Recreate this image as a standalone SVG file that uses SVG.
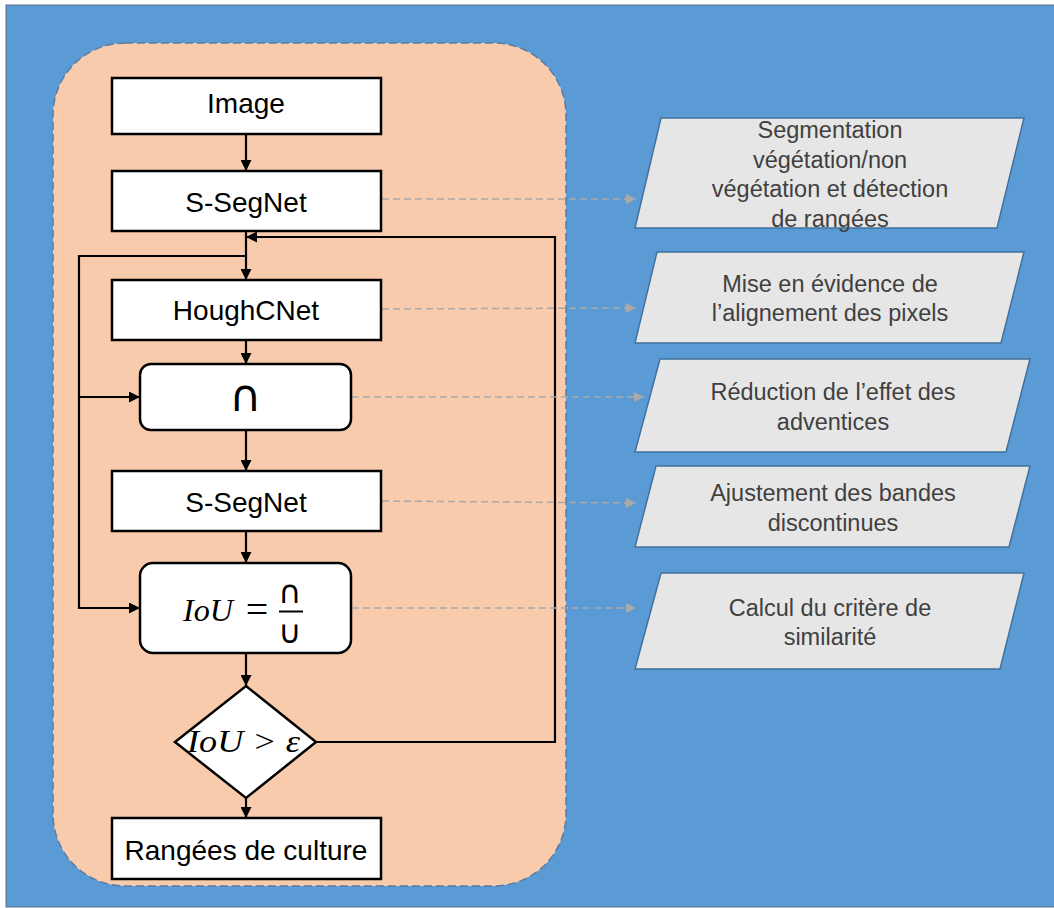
<svg xmlns="http://www.w3.org/2000/svg" width="1054" height="908" viewBox="0 0 1054 908">
  <defs>
    <style>
      .box { fill: #ffffff; stroke: #000000; stroke-width: 2.5; }
      .lbl { font-family: "Liberation Sans", Arial, sans-serif; font-size: 28px; fill: #000000; text-anchor: middle; }
      .math { font-family: "Liberation Serif", "Times New Roman", serif; font-style: italic; font-size: 32px; fill: #000000; }
      .sym { font-family: "DejaVu Sans", sans-serif; fill: #000000; text-anchor: middle; }
      .para { fill: #E7E6E6; stroke: #41719C; stroke-width: 1.5; }
      .note { font-family: "Liberation Sans", Arial, sans-serif; font-size: 23.5px; fill: #404040; text-anchor: middle; }
      .flow { fill: none; stroke: #000000; stroke-width: 2.2; }
      .dash { fill: none; stroke: #A9A9A9; stroke-width: 1.5; stroke-dasharray: 7 4; }
    </style>
    <marker id="ah" viewBox="0 0 10 10" refX="10" refY="5" markerWidth="5" markerHeight="5" orient="auto" markerUnits="strokeWidth">
      <path d="M0,0 L10,5 L0,10 Z" fill="#000000"/>
    </marker>
    <marker id="ahg" viewBox="0 0 10 10" refX="10" refY="5" markerWidth="7" markerHeight="7" orient="auto" markerUnits="strokeWidth">
      <path d="M0,0 L10,5 L0,10 Z" fill="#A9A9A9"/>
    </marker>
  </defs>

  <!-- background -->
  <rect x="6" y="5" width="1050" height="902" fill="#5B9BD5" stroke="#5d6f85" stroke-width="1"/>
  <!-- container -->
  <rect x="53" y="43" width="513" height="843" rx="72" ry="72" fill="#F8CBAD" stroke="#5a7ba3" stroke-width="1.5" stroke-dasharray="8 4"/>

  <!-- connectors -->
  <g id="connectors">
    <line class="flow" x1="246" y1="134" x2="246" y2="171" marker-end="url(#ah)"/>
    <line class="flow" x1="246" y1="231" x2="246" y2="280" marker-end="url(#ah)"/>
    <polyline class="flow" points="246,256 79,256 79,397 140,397" marker-end="url(#ah)"/>
    <polyline class="flow" points="79,397 79,608 140,608" marker-end="url(#ah)"/>
    <line class="flow" x1="246" y1="340" x2="246" y2="364" marker-end="url(#ah)"/>
    <line class="flow" x1="246" y1="430" x2="246" y2="471" marker-end="url(#ah)"/>
    <line class="flow" x1="246" y1="531" x2="246" y2="563" marker-end="url(#ah)"/>
    <line class="flow" x1="246" y1="653" x2="246" y2="686" marker-end="url(#ah)"/>
    <line class="flow" x1="246" y1="798" x2="246" y2="818" marker-end="url(#ah)"/>
    <polyline class="flow" points="316,742 555,742 555,237 246,237" marker-end="url(#ah)"/>

    <line class="dash" x1="382" y1="199" x2="636" y2="199" marker-end="url(#ahg)"/>
    <line class="dash" x1="382" y1="309" x2="636" y2="308" marker-end="url(#ahg)"/>
    <line class="dash" x1="352" y1="397" x2="644" y2="397" marker-end="url(#ahg)"/>
    <line class="dash" x1="382" y1="501" x2="636" y2="503" marker-end="url(#ahg)"/>
    <line class="dash" x1="352" y1="608" x2="636" y2="608" marker-end="url(#ahg)"/>
  </g>

  <!-- flow nodes -->
  <g id="n-image">
    <rect class="box" x="112" y="78" width="269" height="56"/>
    <text class="lbl" x="246" y="113">Image</text>
  </g>
  <g id="n-ssegnet1">
    <rect class="box" x="112" y="171" width="269" height="60"/>
    <text class="lbl" x="246" y="212">S-SegNet</text>
  </g>
  <g id="n-houghcnet">
    <rect class="box" x="112" y="280" width="269" height="60"/>
    <text class="lbl" x="246" y="320">HoughCNet</text>
  </g>
  <g id="n-inter">
    <rect class="box" x="140" y="364" width="211" height="66" rx="11" ry="11"/>
    <text class="sym" x="245" y="411" font-size="44">∩</text>
  </g>
  <g id="n-ssegnet2">
    <rect class="box" x="112" y="471" width="269" height="60"/>
    <text class="lbl" x="246" y="512">S-SegNet</text>
  </g>
  <g id="n-iou">
    <rect class="box" x="140" y="563" width="211" height="90" rx="13" ry="13"/>
    <text class="math" x="183" y="621" textLength="50" lengthAdjust="spacingAndGlyphs">IoU</text>
    <text x="257" y="623" font-family="Liberation Serif, serif" font-size="40" text-anchor="middle">=</text>
    <text class="sym" x="290" y="603" font-size="32">∩</text>
    <line x1="279" y1="611.5" x2="303" y2="611.5" stroke="#000" stroke-width="2"/>
    <text class="sym" x="290" y="643" font-size="32">∪</text>
  </g>
  <g id="n-test">
    <polygon class="box" points="246,686 316,742 246,798 175,742"/>
    <text class="math" x="187" y="752" textLength="113" lengthAdjust="spacingAndGlyphs">IoU &gt; ε</text>
  </g>
  <g id="n-rangees">
    <rect class="box" x="112" y="818" width="269" height="61"/>
    <text class="lbl" x="246" y="860">Rangées de culture</text>
  </g>

  <!-- annotation nodes -->
  <g id="a-segmentation">
    <polygon class="para" points="661,118 1024,118 997,228 635,228"/>
    <text class="note" x="830" y="138">Segmentation</text>
    <text class="note" x="830" y="167.5">végétation/non</text>
    <text class="note" x="830" y="197">végétation et détection</text>
    <text class="note" x="830" y="226.5">de rangées</text>
  </g>
  <g id="a-alignement">
    <polygon class="para" points="657,252 1024,252 1001,343 635,343"/>
    <text class="note" x="830" y="292">Mise en évidence de</text>
    <text class="note" x="830" y="321">l’alignement des pixels</text>
  </g>
  <g id="a-adventices">
    <polygon class="para" points="660,359 1030,359 1006,452 635,452"/>
    <text class="note" x="833" y="400">Réduction de l’effet des</text>
    <text class="note" x="833" y="430">adventices</text>
  </g>
  <g id="a-bandes">
    <polygon class="para" points="656,466 1030,466 1009,547 635,547"/>
    <text class="note" x="833" y="501">Ajustement des bandes</text>
    <text class="note" x="833" y="531">discontinues</text>
  </g>
  <g id="a-similarite">
    <polygon class="para" points="661,573 1024,573 1000,669 635,669"/>
    <text class="note" x="830" y="616">Calcul du critère de</text>
    <text class="note" x="830" y="645">similarité</text>
  </g>
</svg>
